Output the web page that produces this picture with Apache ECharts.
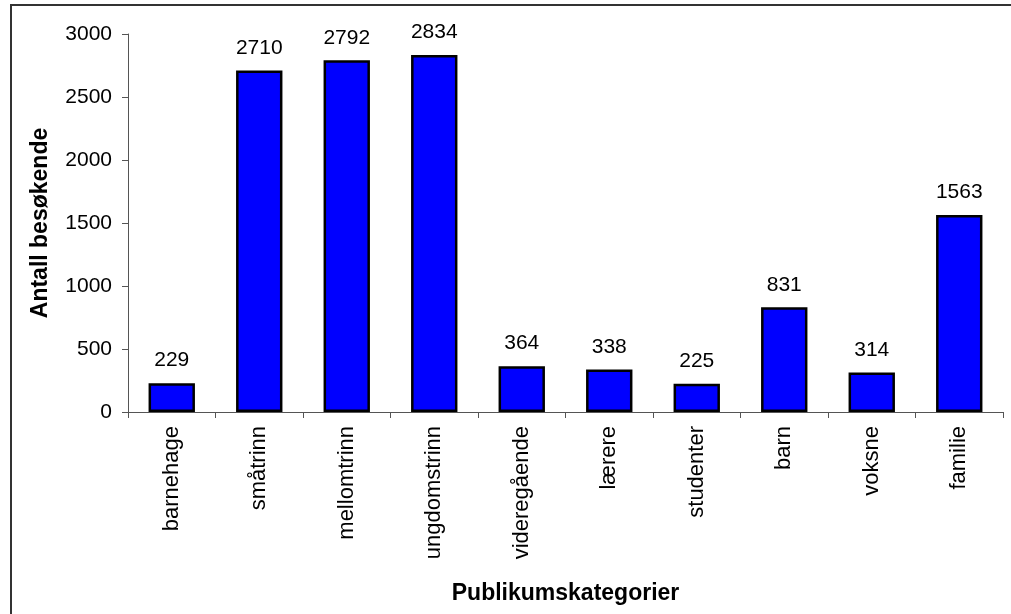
<!DOCTYPE html>
<html lang="no">
<head>
    <meta charset="UTF-8">
    <title>Publikumskategorier</title>
    <style>
        *{ padding:0; margin:0; }
        body{ background:#fff; }
    </style>
    <script src="https://cdn.jsdelivr.net/npm/echarts@6/dist/echarts.min.js"></script>
</head>
<body>
    <div id="main" style="width:1011px;height:614px;"></div>
    <script>
        // data
        var categories = ['barnehage', 'småtrinn', 'mellomtrinn', 'ungdomstrinn', 'videregående',
            'lærere', 'studenter', 'barn', 'voksne', 'familie'];
        var visitors = [229, 2710, 2792, 2834, 364, 338, 225, 831, 314, 1563];
        var yTicks = [0, 500, 1000, 1500, 2000, 2500, 3000];

        var myChart = echarts.init(document.getElementById('main'));
        var font = 'Liberation Sans, Arial, sans-serif';

        var option = {
            backgroundColor: '#fff',
            animation: false,
            // outer frame, right and bottom edges fall outside the picture
            graphic: [{
                type: 'rect',
                shape: { x: 11, y: 5, width: 1030, height: 640 },
                style: { fill: 'none', stroke: '#333', lineWidth: 2 },
                silent: true
            }],
            grid: { left: 128, right: 8, top: 34, bottom: 202 },
            xAxis: {
                type: 'category',
                data: categories,
                name: 'Publikumskategorier',
                nameLocation: 'middle',
                nameGap: 170,
                nameTextStyle: { fontFamily: font, fontSize: 23, fontWeight: 'bold', color: '#000' },
                axisLine: { lineStyle: { color: '#555', width: 1 } },
                axisTick: { show: true, length: 6, lineStyle: { color: '#555' } },
                axisLabel: { rotate: 90, margin: 14, fontFamily: font, fontSize: 22, color: '#000', interval: 0 }
            },
            yAxis: {
                type: 'value',
                min: yTicks[0],
                max: yTicks[yTicks.length - 1],
                interval: 500,
                name: 'Antall besøkende',
                nameLocation: 'middle',
                nameGap: 76,
                nameTextStyle: { fontFamily: font, fontSize: 23, fontWeight: 'bold', color: '#000' },
                axisLine: { show: true, lineStyle: { color: '#555', width: 1 } },
                axisTick: { show: true, length: 6, lineStyle: { color: '#555' } },
                axisLabel: {
                    margin: 16, fontFamily: font, fontSize: 21, color: '#000',
                    formatter: function (v) { return String(v); }
                },
                splitLine: { show: false }
            },
            series: [{
                type: 'bar',
                data: visitors,
                barWidth: '53%',
                itemStyle: { color: '#0000ff', borderColor: '#000', borderWidth: 2.5 },
                label: {
                    show: true,
                    position: 'top',
                    distance: 12,
                    fontFamily: font,
                    fontSize: 21,
                    color: '#000'
                }
            }]
        };
        myChart.setOption(option);
    </script>
</body>
</html>
